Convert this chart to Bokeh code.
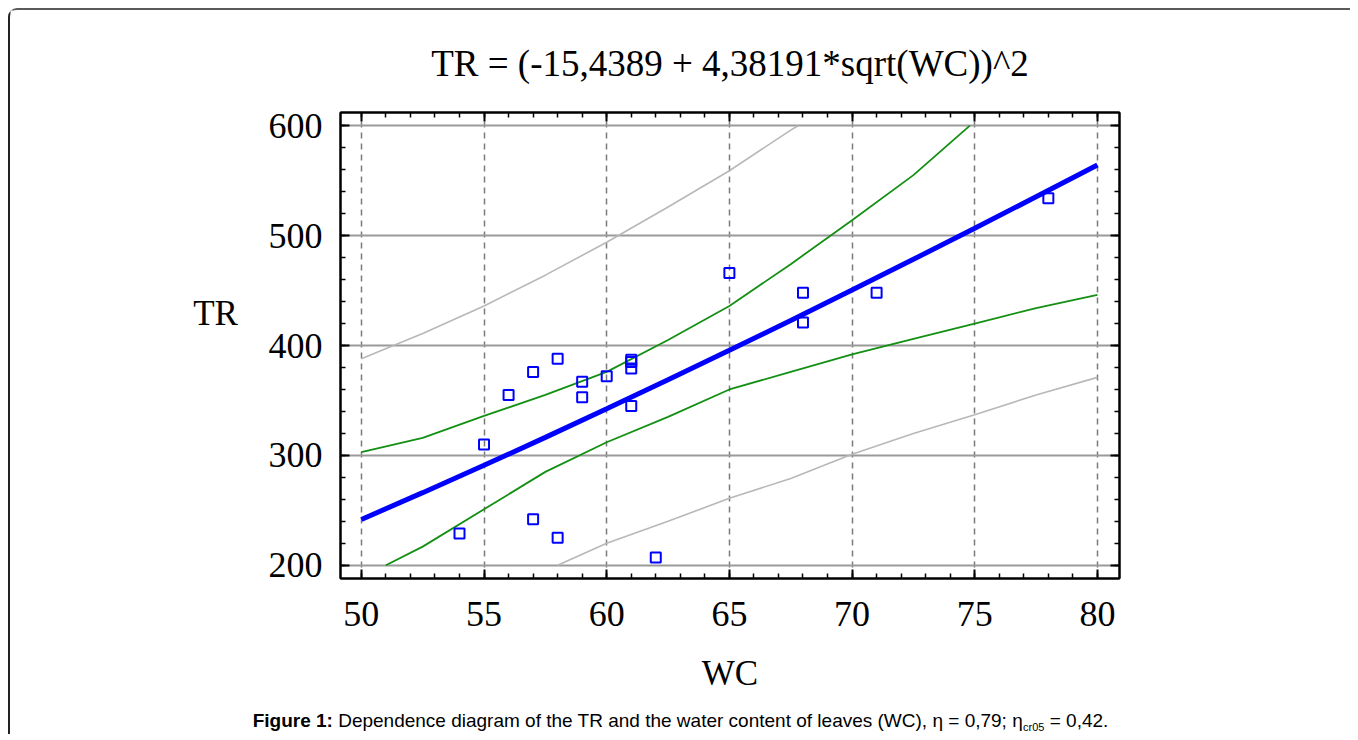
from bokeh.plotting import figure
from bokeh.models import (Range1d, SingleIntervalTicker, LinearAxis,
                          CustomJSTickFormatter, Label)
from bokeh.layouts import column, row
from bokeh.embed import file_html
from bokeh.resources import INLINE

# ---------------- data ----------------
wc = [54, 55, 56, 57, 57, 58, 58, 59, 59, 60, 61, 61, 61, 61, 62, 65, 68, 68, 71, 78]
tr = [229, 310, 355, 376, 242, 388, 225, 367, 353, 372, 387, 385, 379, 345, 207, 466, 448, 421, 448, 534]

fit_x = [50, 52.5, 55, 57.5, 60, 62.5, 65, 67.5, 70, 72.5, 75, 77.5, 80]
fit_y = [241.7, 266.1, 291.0, 316.4, 342.4, 368.8, 395.6, 422.8, 450.4, 478.4, 506.7, 535.3, 564.3]

conf_up_x = [50, 52.5, 55, 57.5, 60, 62.5, 65, 67.5, 70, 72.5, 74.8]
conf_up_y = [303, 316, 336, 355, 376, 405, 436, 474, 514, 555, 600]

conf_lo_x = [51, 52.5, 55, 57.5, 60, 62.5, 65, 67.5, 70, 72.5, 75, 77.5, 80]
conf_lo_y = [200, 217, 251, 285, 312, 335, 360, 376, 392, 406, 420, 434, 446]

pred_up_x = [50, 52.5, 55, 57.5, 60, 62.5, 65, 67.5, 67.8]
pred_up_y = [388, 411, 436, 464, 494, 526, 559, 596, 600]

pred_lo_x = [58, 60, 62.5, 65, 67.5, 70, 72.5, 75, 77.5, 80]
pred_lo_y = [200, 220, 240, 261, 279, 301, 320, 337, 355, 371]

x_ticks_interval = 5
y_ticks_interval = 100

title_text = "TR = (-15,4389 + 4,38191*sqrt(WC))^2"
x_label = "WC"
y_label = "TR"
caption_bold = "Figure 1:"
caption_main = "Dependence diagram of the TR and the water content of leaves (WC), \u03b7 = 0,79; \u03b7"
caption_sub = "cr05"
caption_end = "= 0,42."

# ---------------- layout ----------------
X0, X1, Y0, Y1 = 49.15, 80.9, 188, 612
FL, FT, FW, FH = 340, 112, 779, 466  # frame position in window px
ORG = 10                              # canvas origin in window px
W = 1340
LW = 240                              # width of the strip that holds the "TR" label
MAIN_H = 688
CAP_H = 36

serif = "Liberation Serif"
sans = "Liberation Sans"


def blank_fig(w, h):
    f = figure(width=w, height=h, x_range=Range1d(0, w), y_range=Range1d(0, h),
               min_border=0, x_axis_type=None, y_axis_type=None,
               output_backend="svg", toolbar_location=None)
    f.grid.visible = False
    f.outline_line_color = None
    f.background_fill_color = "white"
    f.border_fill_color = "white"
    f.frame_align = False
    return f


p = figure(x_range=Range1d(X0, X1), y_range=Range1d(Y0, Y1),
           frame_width=FW, frame_height=FH,
           min_border_left=FL - ORG - LW, min_border_right=W - LW - (FL - ORG - LW) - FW,
           min_border_top=FT - ORG, min_border_bottom=MAIN_H - (FT - ORG) - FH,
           output_backend="svg", toolbar_location=None)
p.frame_align = False
p.background_fill_color = "white"
p.border_fill_color = "white"
p.outline_line_color = "black"
p.outline_line_width = 2

p.title.text = title_text
p.title.text_font = serif
p.title.text_font_size = "37px"
p.title.text_font_style = "normal"
p.title.text_color = "black"
p.title.align = "center"
p.title.standoff = 58

xt = SingleIntervalTicker(interval=x_ticks_interval, num_minor_ticks=5)
yt = SingleIntervalTicker(interval=y_ticks_interval, num_minor_ticks=5)

for ax in p.xaxis:
    ax.ticker = xt
    ax.major_label_standoff = 23
    ax.axis_label = x_label
    ax.axis_label_standoff = 25
for ax in p.yaxis:
    ax.ticker = yt
    ax.major_label_standoff = 18

empty = CustomJSTickFormatter(code="return ''")
p.add_layout(LinearAxis(ticker=xt, formatter=empty), "above")
p.add_layout(LinearAxis(ticker=yt, formatter=empty), "right")

for ax in p.axis:
    ax.axis_line_color = "black"
    ax.axis_line_width = 2
    ax.major_tick_in = 9
    ax.major_tick_out = 0
    ax.minor_tick_in = 5
    ax.minor_tick_out = 0
    ax.major_tick_line_color = "black"
    ax.major_tick_line_width = 2
    ax.minor_tick_line_color = "black"
    ax.minor_tick_line_width = 1.5
    ax.major_label_text_font = serif
    ax.major_label_text_font_size = "36px"
    ax.major_label_text_color = "black"
    ax.axis_label_text_font = serif
    ax.axis_label_text_font_size = "35px"
    ax.axis_label_text_font_style = "normal"
    ax.axis_label_text_color = "black"

for ax in p.above + p.right:
    if isinstance(ax, LinearAxis):
        ax.major_label_standoff = 0
        ax.major_label_text_font_size = "1px"

p.xgrid.grid_line_color = "#7a7a7a"
p.xgrid.grid_line_dash = "6 5"
p.xgrid.grid_line_width = 1.5
p.ygrid.grid_line_color = "#9a9a9a"
p.ygrid.grid_line_width = 2

# ---------------- glyphs ----------------
p.line(pred_up_x, pred_up_y, line_color="#b8b8b8", line_width=1.6)
p.line(pred_lo_x, pred_lo_y, line_color="#b8b8b8", line_width=1.6)
p.line(conf_up_x, conf_up_y, line_color="#139013", line_width=1.8)
p.line(conf_lo_x, conf_lo_y, line_color="#139013", line_width=1.8)
p.line(fit_x, fit_y, line_color="#0000ff", line_width=5)
p.scatter(wc, tr, marker="square", size=10, fill_color=None,
          line_color="#0000ff", line_width=2)

# ---------------- y label strip ----------------
lab = blank_fig(LW, MAIN_H)
lab.add_layout(Label(x=215 - ORG, y=MAIN_H - (313 - ORG), text=y_label, text_font=serif,
                     text_font_size="35px", text_align="center", text_baseline="middle",
                     text_color="black"))

# ---------------- caption ----------------
cap = blank_fig(W, CAP_H)
fs = 19
sub_fs = 11
sp = 0.278 * fs
w1 = 4.223 * fs
w2 = 36.046 * fs
w3 = 1.945 * sub_fs
w4 = 3.086 * fs
start = 680 - (w1 + sp + w2 + w3 + sp + w4) / 2 - ORG
cy = CAP_H - (720 - ORG - MAIN_H)
cap.add_layout(Label(x=start, y=cy, text=caption_bold, text_font=sans,
                     text_font_style="bold", text_font_size=f"{fs}px",
                     text_align="left", text_baseline="middle", text_color="black"))
x2 = start + w1 + sp
cap.add_layout(Label(x=x2, y=cy, text=caption_main, text_font=sans,
                     text_font_size=f"{fs}px",
                     text_align="left", text_baseline="middle", text_color="black"))
x3 = x2 + w2
cap.add_layout(Label(x=x3, y=cy - 6, text=caption_sub, text_font=sans,
                     text_font_size=f"{sub_fs}px",
                     text_align="left", text_baseline="middle", text_color="black"))
x4 = x3 + w3 + sp
cap.add_layout(Label(x=x4, y=cy, text=caption_end, text_font=sans,
                     text_font_size=f"{fs}px",
                     text_align="left", text_baseline="middle", text_color="black"))

layout = column(row(lab, p, spacing=0), cap, spacing=0,
                styles={"border-top": "2px solid #5a5a5a", "border-left": "2px solid #222222",
                        "border-top-left-radius": "9px", "margin-left": "8px",
                        "margin-top": "8px"})

open("out.html", "w").write(file_html(layout, INLINE))
